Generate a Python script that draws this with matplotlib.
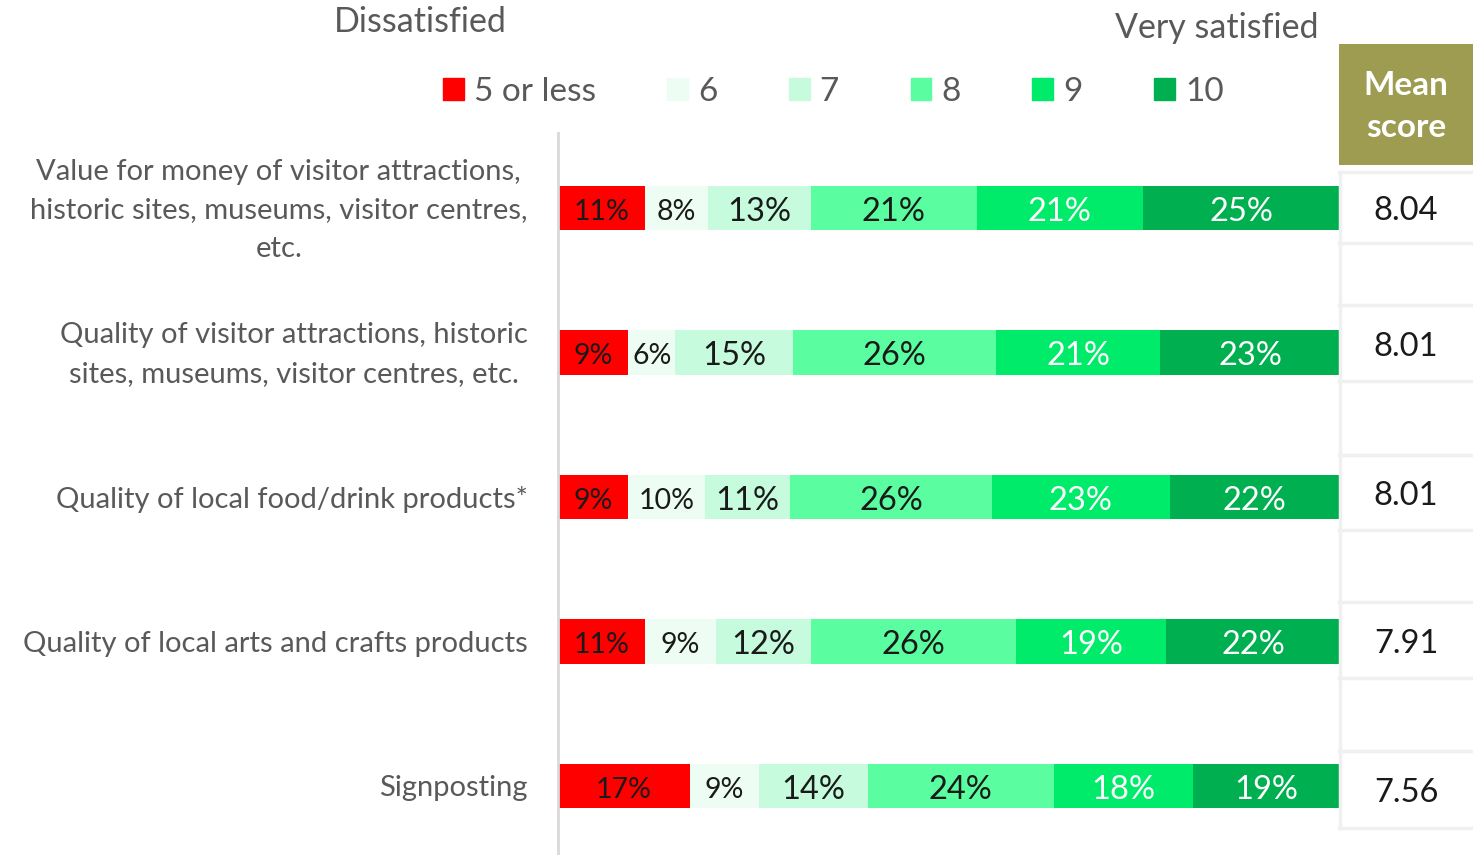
# Stacked satisfaction bars with a mean score column

import numpy as np
import matplotlib.pyplot as plt
from matplotlib.patches import Patch, Rectangle

# ---------- Data ----------

categories = ['Value for money of visitor attractions,\nhistoric sites, museums, visitor centres,\netc.',
              'Quality of visitor attractions, historic\nsites, museums, visitor centres, etc.',
              'Quality of local food/drink products*',
              'Quality of local arts and crafts products',
              'Signposting']
series = ['5 or less', '6', '7', '8', '9', '10']
less5 = [11, 9, 9, 11, 17]
six = [8, 6, 10, 9, 9]
seven = [13, 15, 11, 12, 14]
eight = [21, 26, 26, 26, 24]
nine = [21, 21, 23, 19, 18]
ten = [25, 23, 22, 22, 19]
mean_score = [8.04, 8.01, 8.01, 7.91, 7.56]

colors = ['#FF0000', '#EDFDF3', '#C6FCDD', '#5AFD9F', '#00EB6A', '#00AF50']
txt_colors = ['#1a1a1a', '#1a1a1a', '#1a1a1a', '#1a1a1a', 'white', 'white']
txt_sizes = [20.5, 20.5, 23.5, 23.5, 23.5, 23.5]
grey = '#595959'

plt.rcParams['font.family'] = ['Lato', 'DejaVu Sans']

# ---------- Plot ----------

W, H = 1473, 855
fig = plt.figure(figsize=(W/100, H/100), dpi=100)
ax = fig.add_axes([558/W, 0, 782/W, (H-133)/H])

vals = np.array([less5, six, seven, eight, nine, ten], dtype=float)
shares = vals / vals.sum(axis=0) * 100  # rows don't add to exactly 100 after rounding
y = np.arange(len(categories))
left = np.zeros(len(categories))
for k in range(len(series)):
    ax.barh(y, shares[k], left=left, height=0.31, color=colors[k], linewidth=0)
    for i in range(len(categories)):
        ax.text(left[i] + shares[k][i]/2, y[i] + 0.025, f'{int(vals[k][i])}%', ha='center', va='center',
                color=txt_colors[k], fontsize=txt_sizes[k])
    left += shares[k]

ax.set_xlim(0, 100)
ax.set_ylim(4.4775, -0.519)
ax.set_xticks([])
ax.set_yticks(y + 0.015)
ax.set_yticklabels(categories, fontsize=21, color=grey, linespacing=1.6)
for t in ax.get_yticklabels():
    t.set_multialignment('center')
    t.set_verticalalignment('center')
ax.tick_params(axis='y', length=0, pad=22)
for s in ['top', 'right', 'bottom']:
    ax.spines[s].set_visible(False)
ax.spines['left'].set_color('#D9D9D9')
ax.spines['left'].set_linewidth(2)

# legend and titles
handles = [Patch(color=c, label=s) for c, s in zip(colors, series)]
fig.legend(handles=handles, ncol=6, loc='center left', bbox_to_anchor=(443/W, 1-92/H),
           frameon=False, fontsize=24, labelcolor=grey, handlelength=0.62, handleheight=0.62,
           handletextpad=0.3, columnspacing=2.15, borderpad=0, borderaxespad=0)
fig.text(420/W, 1-22/H, 'Dissatisfied', ha='center', va='center', fontsize=24.5, color=grey)
fig.text(1217/W, 1-28/H, 'Very satisfied', ha='center', va='center', fontsize=24.5, color=grey)

# mean score column
ax2 = fig.add_axes([1339/W, 0, 134/W, (H-133)/H], sharey=ax)
ax2.set_xlim(0, 1)
ax2.axis('off')
ax2.add_patch(Rectangle((0, -1.135), 1, 0.837, color='#9D9C51', clip_on=False, linewidth=0))
ax2.text(0.5, -0.7, 'Mean\nscore', ha='center', va='center', color='white', fontsize=24,
         fontweight='bold', linespacing=1.55, clip_on=False)
edges = [-0.25, 0.24, 0.67, 1.2, 1.71, 2.23, 2.73, 3.25, 3.76, 4.29]
for e in edges:
    ax2.axhline(e, color='#F0F0F0', linewidth=2.5, clip_on=False)
ax2.plot([0.01, 0.01], [edges[0], edges[-1]], color='#F0F0F0', linewidth=2.5, clip_on=False)
for i, m in enumerate(mean_score):
    ax2.text(0.5, (edges[2*i] + edges[2*i+1])/2 + 0.025, f'{m:.2f}', ha='center', va='center',
             fontsize=23.5, color='#1a1a1a')

plt.savefig('out.png', dpi=100)
